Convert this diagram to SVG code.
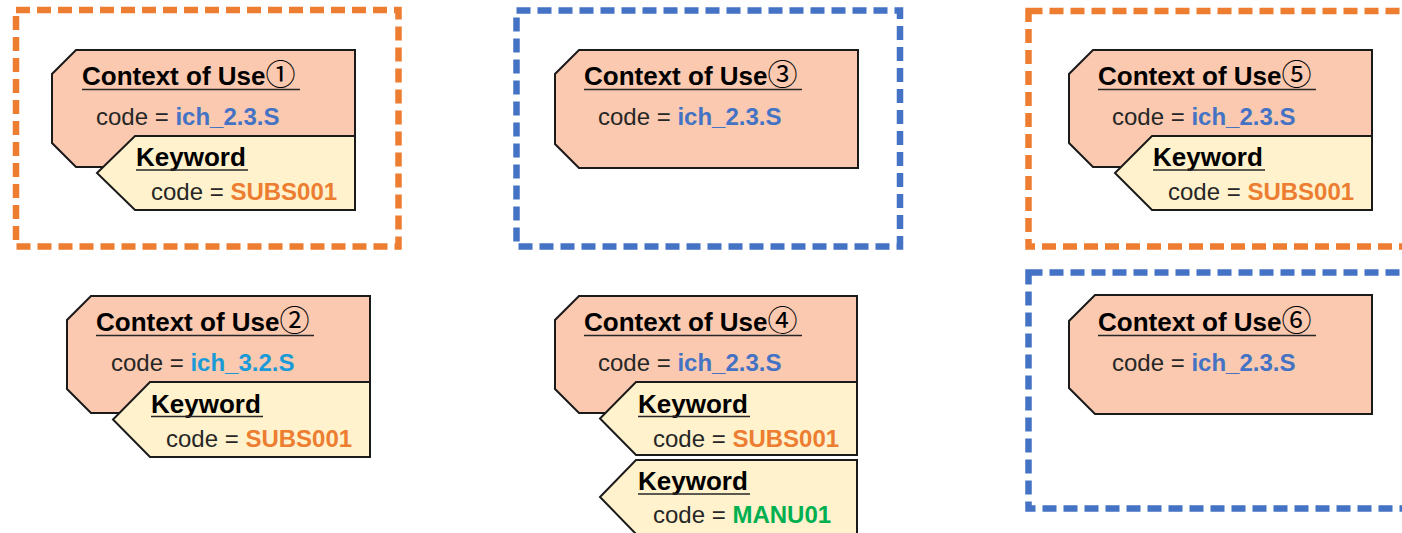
<svg xmlns="http://www.w3.org/2000/svg" width="1402" height="533" viewBox="0 0 1402 533">
<style>
.bg{fill:#ffffff}
.grp-o{fill:none;stroke:#ED7D31;stroke-width:6.5;stroke-dasharray:14 7;stroke-linejoin:miter}
.grp-b{fill:none;stroke:#4472C4;stroke-width:6.5;stroke-dasharray:14 7;stroke-linejoin:miter}
.ctx{fill:#FAC9AF;stroke:#1a1a1a;stroke-width:2;stroke-linejoin:miter}
.kw{fill:#FFF2CC;stroke:#1a1a1a;stroke-width:2;stroke-linejoin:miter}
.title{font-family:"Liberation Sans",Arial,sans-serif;font-weight:bold;font-size:26px;fill:#000000}
.circ{font-family:"Noto Sans CJK JP","DejaVu Sans",sans-serif;font-weight:normal;font-size:30px}
.code{font-family:"Liberation Sans",Arial,sans-serif;font-size:24px;fill:#262626}
.v{font-weight:bold}
.blue{fill:#4472C4}
.cyan{fill:#1A9BD7}
.orange{fill:#ED7D31}
.green{fill:#00B050}
.ul{stroke:#262626;stroke-width:1.6}
</style>
<rect class="bg" x="0" y="0" width="1402" height="533"/>

<g id="group-1"><rect class="grp-o" x="16" y="10" width="382.5" height="236.5"/></g>
<g id="group-3"><rect class="grp-b" x="516.5" y="10.5" width="383.5" height="236"/></g>
<g id="group-5"><rect class="grp-o" x="1028.5" y="11" width="400" height="235.5"/></g>
<g id="group-6"><rect class="grp-b" x="1028.5" y="272.5" width="400" height="236"/></g>

<g id="connectors"></g>

<!-- Context of Use 1 -->
<g id="ctx-1">
<polygon class="ctx" points="76,50 355,50 355,167 76,167 52,143 52,74"/>
<text class="title" x="82" y="85">Context of Use<tspan class="circ">①</tspan></text>
<line class="ul" x1="82" y1="89.5" x2="300" y2="89.5"/>
<text class="code" x="96" y="125">code = <tspan class="v blue">ich_2.3.S</tspan></text>
</g>
<g id="kw-1">
<polygon class="kw" points="135,136 355,136 355,210 135,210 97,173"/>
<text class="title" x="136" y="166">Keyword</text>
<line class="ul" x1="136" y1="170" x2="248" y2="170"/>
<text class="code" x="151" y="200">code = <tspan class="v orange">SUBS001</tspan></text>
</g>

<!-- Context of Use 2 -->
<g id="ctx-2">
<polygon class="ctx" points="91,296 370,296 370,413 91,413 67,389 67,320"/>
<text class="title" x="96" y="331">Context of Use<tspan class="circ">②</tspan></text>
<line class="ul" x1="96" y1="335.5" x2="314" y2="335.5"/>
<text class="code" x="111" y="371">code = <tspan class="v cyan">ich_3.2.S</tspan></text>
</g>
<g id="kw-2">
<polygon class="kw" points="150,382 370,382 370,457 150,457 113,419.5"/>
<text class="title" x="151" y="413">Keyword</text>
<line class="ul" x1="151" y1="416.5" x2="263" y2="416.5"/>
<text class="code" x="166" y="447">code = <tspan class="v orange">SUBS001</tspan></text>
</g>

<!-- Context of Use 3 -->
<g id="ctx-3">
<polygon class="ctx" points="579,50 858,50 858,168 579,168 555,144 555,74"/>
<text class="title" x="584" y="85">Context of Use<tspan class="circ">③</tspan></text>
<line class="ul" x1="584" y1="89.5" x2="802" y2="89.5"/>
<text class="code" x="598" y="125">code = <tspan class="v blue">ich_2.3.S</tspan></text>
</g>

<!-- Context of Use 4 -->
<g id="ctx-4">
<polygon class="ctx" points="579,296 857,296 857,413 579,413 555,389 555,320"/>
<text class="title" x="584" y="331">Context of Use<tspan class="circ">④</tspan></text>
<line class="ul" x1="584" y1="335.5" x2="802" y2="335.5"/>
<text class="code" x="598" y="371">code = <tspan class="v blue">ich_2.3.S</tspan></text>
</g>
<g id="kw-4a">
<polygon class="kw" points="636,382 857,382 857,455 636,455 600,418.5"/>
<text class="title" x="638" y="413">Keyword</text>
<line class="ul" x1="638" y1="416.5" x2="750" y2="416.5"/>
<text class="code" x="653" y="447">code = <tspan class="v orange">SUBS001</tspan></text>
</g>
<g id="kw-4b">
<polygon class="kw" points="636,460 857,460 857,534 636,534 600,497"/>
<text class="title" x="638" y="490">Keyword</text>
<line class="ul" x1="638" y1="494" x2="750" y2="494"/>
<text class="code" x="653" y="523">code = <tspan class="v green">MANU01</tspan></text>
</g>

<!-- Context of Use 5 -->
<g id="ctx-5">
<polygon class="ctx" points="1093,50 1372,50 1372,167 1093,167 1069,143 1069,74"/>
<text class="title" x="1098" y="85">Context of Use<tspan class="circ">⑤</tspan></text>
<line class="ul" x1="1098" y1="89.5" x2="1316" y2="89.5"/>
<text class="code" x="1112" y="125">code = <tspan class="v blue">ich_2.3.S</tspan></text>
</g>
<g id="kw-5">
<polygon class="kw" points="1152,136 1372,136 1372,210 1152,210 1115,173"/>
<text class="title" x="1153" y="166">Keyword</text>
<line class="ul" x1="1153" y1="170" x2="1265" y2="170"/>
<text class="code" x="1168" y="200">code = <tspan class="v orange">SUBS001</tspan></text>
</g>

<!-- Context of Use 6 -->
<g id="ctx-6">
<polygon class="ctx" points="1095,295 1372,295 1372,414 1095,414 1069,388 1069,321"/>
<text class="title" x="1098" y="331">Context of Use<tspan class="circ">⑥</tspan></text>
<line class="ul" x1="1098" y1="335.5" x2="1316" y2="335.5"/>
<text class="code" x="1112" y="371">code = <tspan class="v blue">ich_2.3.S</tspan></text>
</g>
</svg>
